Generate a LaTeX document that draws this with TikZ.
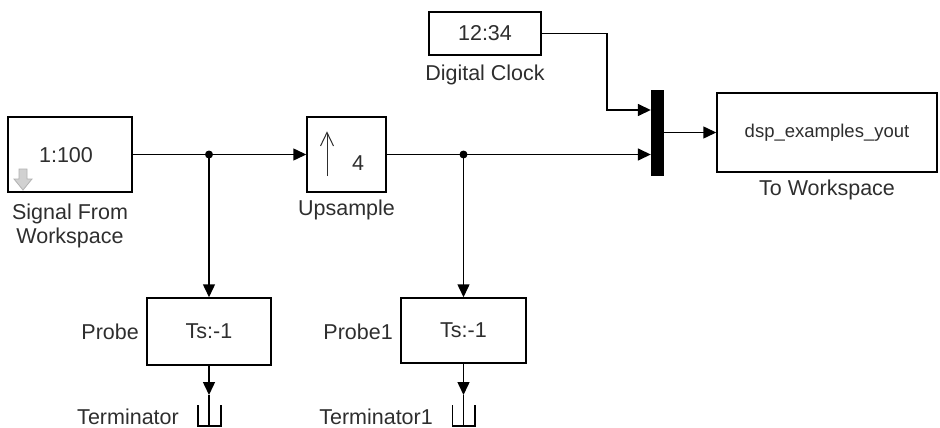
\documentclass[tikz,border=0pt]{standalone}
\usepackage{fontspec}
\setmainfont{Liberation Sans}
\usetikzlibrary{arrows.meta}
\definecolor{txt}{HTML}{2E2E2E}
\begin{document}
\begin{tikzpicture}[x=1pt,y=-1pt,
  blk/.style={draw=black,line width=1.5pt,fill=white,inner sep=0pt,text=txt,font=\fontsize{21.5}{24}\selectfont},
  lbl/.style={inner sep=0pt,text=txt,font=\fontsize{21.5}{24}\selectfont,align=center},
  wire/.style={line width=1.5pt,draw=black},
  arr/.style={wire,-{Triangle[length=13pt,width=12pt]}},
  dot/.style={circle,fill=black,inner sep=0pt,minimum size=8pt}]
\useasboundingbox (0,0) rectangle (940,428);
% blocks
\node[blk,minimum width=124pt,minimum height=75pt] (sfw) at (70,154.5) {};
\node[lbl] (sfwtxt) at (66,155) {1:100};
\node[blk,minimum width=79pt,minimum height=75pt] (ups) at (346.5,154.5) {};
\node[lbl] (upstxt) at (358,163) {4};
\node[blk,minimum width=112pt,minimum height=43pt] (clk) at (485,33.5) {12:34};
\node[draw=black,fill=black,inner sep=0pt,minimum width=12pt,minimum height=85pt] (mux) at (657,132.5) {};
\node[blk,minimum width=220pt,minimum height=79pt,font=\fontsize{18.5}{22}\selectfont] (tow) at (827,132.5) {dsp\_examples\_yout};
\node[blk,minimum width=124pt,minimum height=67pt] (probe) at (209,331.5) {Ts:-1};
\node[blk,minimum width=125pt,minimum height=65pt] (probe1) at (463.5,330.5) {Ts:-1};
% block icons
\draw[fill=black!18,draw=black!30,line width=0.8pt] (19,169) -- (27,169) -- (27,179) -- (32,179) -- (23,190) -- (14,179) -- (19,179) -- cycle;
\draw[line width=1pt,draw=txt] (327,176) -- (327,133);
\draw[line width=1pt,draw=txt] (320.5,146) -- (327,132.5) -- (333.5,146);
% labels
\node[lbl] (sfwl) at (70,226) {Signal From\\Workspace};
\node[lbl] (upsl) at (346.5,210) {Upsample};
\node[lbl] (clkl) at (485,75) {Digital Clock};
\node[lbl] (towl) at (827,190) {To Workspace};
\node[lbl,anchor=east] (probel) at (139,332) {Probe};
\node[lbl,anchor=east] (probe1l) at (393,332) {Probe1};
\node[lbl,anchor=east] (terml) at (179,417) {Terminator};
\node[lbl,anchor=east] (term1l) at (433,417) {Terminator1};
% terminators
\coordinate (t1) at (209,395);
\coordinate (t2) at (463.5,395);
\draw[wire] (198,405) -- (198,426) -- (221,426) -- (221,405);
\draw[wire] (209,395) -- (209,426);
\draw[wire] (452.5,405) -- (452.5,426) -- (475,426) -- (475,405);
\draw[wire] (463.5,395) -- (463.5,426);
% junctions
\coordinate (j1) at (209,154.5);
\coordinate (j2) at (463.5,154.5);
\coordinate (m1) at (mux.west |- 0,110);
\coordinate (m2) at (mux.west |- 0,154.5);
\coordinate (c1) at (607,33.5);
% connectors
\draw[arr] (sfw.east) -- (ups.west);
\draw[arr] (j1) -- (probe.north);
\draw[arr] (ups.east) -- (m2);
\draw[arr] (j2) -- (probe1.north);
\draw[arr] (clk.east) -- (c1) |- (m1);
\draw[arr] (mux.east) -- (tow.west);
\draw[arr] (probe.south) -- (t1);
\draw[arr] (probe1.south) -- (t2);
\node[dot] (d1) at (j1) {};
\node[dot] (d2) at (j2) {};
\end{tikzpicture}
\end{document}
